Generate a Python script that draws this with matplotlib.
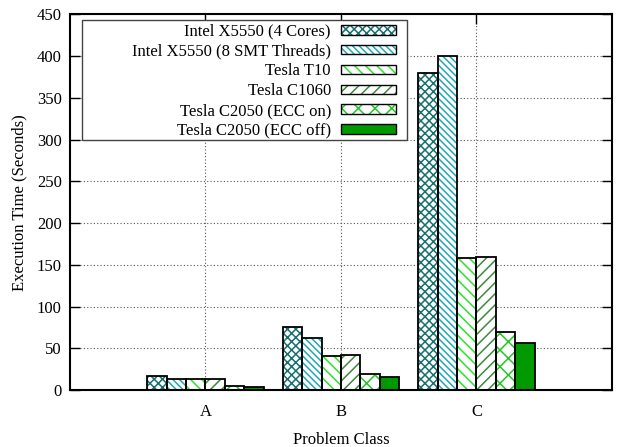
import matplotlib
matplotlib.use("Agg")
import matplotlib.pyplot as plt
import numpy as np
from matplotlib.patches import Patch, Rectangle
from matplotlib.legend_handler import HandlerTuple

plt.rcParams['font.family'] = ['Liberation Serif', 'DejaVu Serif']
plt.rcParams['hatch.linewidth'] = 1.1

categories = ["A", "B", "C"]
series_names = [
    "Intel X5550 (4 Cores)",
    "Intel X5550 (8 SMT Threads)",
    "Tesla T10",
    "Tesla C1060",
    "Tesla C2050 (ECC on)",
    "Tesla C2050 (ECC off)",
]
intel_4cores = [16.4, 75.4, 380]
intel_8smt = [13.2, 62.6, 400]
tesla_t10 = [13.0, 40.7, 157.6]
tesla_c1060 = [13.0, 41.5, 159.5]
c2050_ecc_on = [5.2, 18.7, 70]
c2050_ecc_off = [4.0, 15.2, 56]
series_values = [intel_4cores, intel_8smt, tesla_t10, tesla_c1060, c2050_ecc_on, c2050_ecc_off]

hatch_colors = ["#17706f", "#22a8b8", "#2ee02e", "#3d8a3d", "#22c822", "#009900"]
hatches = ["xxxx", "\\" * 5, "\\" * 3, "/" * 3, "xx", None]
fills = ["white", "white", "white", "white", "white", "#009900"]

fig = plt.figure(figsize=(6.27, 4.47), dpi=100)
ax = fig.add_axes([0.1116, 0.1275, 0.8644, 0.8405])

x = np.arange(len(categories))
n = len(series_values)
w = 1.0 / (n + 1)
handles = []
for i, (vals, hc, hh, fc) in enumerate(zip(series_values, hatch_colors, hatches, fills)):
    pos = x + (i - (n - 1) / 2) * w
    ax.bar(pos, vals, width=w, color=fc, edgecolor=hc, hatch=hh, linewidth=0, zorder=2)
    ax.bar(pos, vals, width=w, fill=False, edgecolor="black", linewidth=1.3, zorder=3)
    h1 = Patch(facecolor=fc, edgecolor=hc, hatch=hh, linewidth=0)
    h2 = Patch(fill=False, edgecolor="black", linewidth=1.0)
    handles.append((h1, h2))

ax.set_xlim(-1, 3)
ax.set_ylim(0, 450)
ax.set_xticks(x)
ax.set_xticklabels(categories)
ax.set_yticks(np.arange(0, 451, 50))
ax.tick_params(axis='both', direction='in', top=True, right=True, length=7, width=1.0,
               labelsize=12, colors='black')
ax.tick_params(axis='x', pad=10)
ax.tick_params(axis='y', pad=6)
ax.grid(True, linestyle=(0, (1, 2)), color='#555555', linewidth=0.8, zorder=0)
ax.set_axisbelow(True)
for s in ax.spines.values():
    s.set_linewidth(1.5)

ax.set_ylabel("Execution Time (Seconds)", fontsize=12, labelpad=7)
ax.set_xlabel("Problem Class", fontsize=12, labelpad=9)

# legend box (frame drawn separately so the extra left padding matches)
box = Rectangle((0.0221, 0.665), 0.5997, 0.320, transform=ax.transAxes,
                facecolor='white', edgecolor='#444444', linewidth=1.0, zorder=4)
ax.add_patch(box)

leg = ax.legend(handles, series_names, handler_map={tuple: HandlerTuple(ndivide=1, pad=0)},
                loc='upper right', bbox_to_anchor=(0.6015, 0.975), borderaxespad=0,
                markerfirst=False, frameon=False,
                fontsize=12, handlelength=3.3, handleheight=0.5, labelspacing=0.23,
                handletextpad=0.6, borderpad=0.0)
leg.set_zorder(5)

fig.savefig("out.png", dpi=100)
